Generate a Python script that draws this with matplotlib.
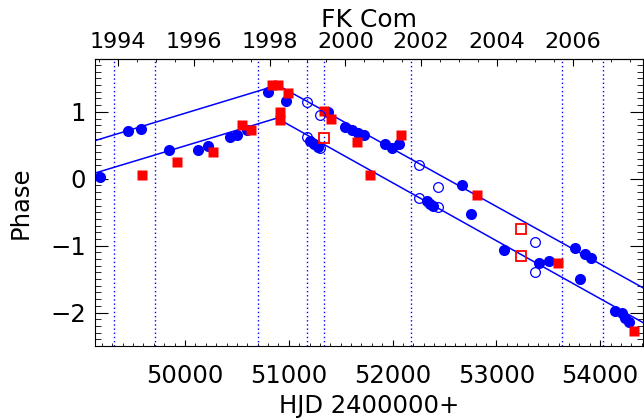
import numpy as np
import matplotlib
matplotlib.use('Agg')
import matplotlib.pyplot as plt
from matplotlib.ticker import MultipleLocator, FixedLocator, FormatStrFormatter

# filled blue circles (HJD-2400000, phase)
blue_hjd = [49181, 49454, 49573, 49849, 50128, 50224, 50434, 50498, 50594, 50802,
            50973, 51381, 51204, 51243, 51281, 51541, 51606, 51670, 51725, 51927,
            51991, 52065, 52329, 52360, 52392, 52666, 52758, 53076, 53407, 53504,
            53757, 53854, 53907, 53801, 54143, 54207, 54239, 54280]
blue_ph = [0.02, 0.72, 0.75, 0.43, 0.43, 0.49, 0.62, 0.65, 0.73, 1.29,
           1.16, 1.00, 0.56, 0.52, 0.48, 0.77, 0.73, 0.69, 0.65, 0.52,
           0.46, 0.52, -0.34, -0.37, -0.41, -0.10, -0.52, -1.07, -1.26, -1.23,
           -1.04, -1.12, -1.18, -1.50, -1.98, -2.00, -2.08, -2.14]

# filled red squares
red_hjd = [49583, 49920, 50273, 50552, 50633, 50835, 50899, 50995, 50915, 50915,
           51342, 51407, 51660, 51782, 52081, 52810, 53591, 54326]
red_ph = [0.05, 0.25, 0.40, 0.80, 0.73, 1.40, 1.40, 1.28, 1.00, 0.88,
          1.01, 0.90, 0.55, 0.05, 0.65, -0.25, -1.26, -2.28]

# open red squares
ored_hjd = [51342, 53234, 53234]
ored_ph = [0.61, -0.75, -1.15]

# open blue circles
oblue_hjd = [51172, 51301, 51172, 51301, 52257, 52257, 52440, 52440, 53375, 53375]
oblue_ph = [1.15, 0.96, 0.63, 0.46, 0.20, -0.29, -0.12, -0.42, -0.94, -1.40]

# fitted migration lines
up_hjd = [49133, 50893, 54412]
up_ph = [0.57, 1.40, -1.63]
lo_hjd = [49133, 50885, 54412]
lo_ph = [0.085, 0.906, -2.15]

# dotted epochs
vl_hjd = [49319, 49711, 50700, 51172, 51342, 52174, 53635, 54024]

# years on the top axis
years = [1994, 1996, 1998, 2000, 2002, 2004, 2006]


def hjd2yr(x):
    return 2000.0 + (np.asarray(x) - 51544.5) / 365.25


def yr2hjd(y):
    return 51544.5 + (np.asarray(y) - 2000.0) * 365.25


plt.rcParams['font.family'] = 'DejaVu Sans'

fig = plt.figure(figsize=(6.44, 4.2), dpi=100)
ax = fig.add_axes([95 / 644, 74 / 420, 548 / 644, 287 / 420])
ax.set_xlim(49133, 54412)
ax.set_ylim(-2.5, 1.79)

for v in vl_hjd:
    ax.axvline(v, color='blue', ls=(0, (1, 2)), lw=1)

ax.plot(up_hjd, up_ph, color='blue', lw=1.1)
ax.plot(lo_hjd, lo_ph, color='blue', lw=1.1)

ax.plot(blue_hjd, blue_ph, 'o', color='blue', ms=8, mec='none')
ax.plot(red_hjd, red_ph, 's', color='red', ms=7.6, mec='none')
ax.plot(oblue_hjd, oblue_ph, 'o', mfc='none', mec='blue', ms=7, mew=0.9)
ax.plot(ored_hjd, ored_ph, 's', mfc='none', mec='red', ms=6.6, mew=1.3)

ax.xaxis.set_major_locator(MultipleLocator(1000))
ax.xaxis.set_minor_locator(MultipleLocator(100))
ax.yaxis.set_major_locator(MultipleLocator(1))
ax.yaxis.set_minor_locator(MultipleLocator(0.1))
ax.tick_params(which='both', direction='in', top=False, right=True)
ax.tick_params(axis='y', which='major', length=9.5, labelsize=17.5, pad=6.5)
ax.tick_params(axis='y', which='minor', length=4.5)
ax.tick_params(axis='x', which='major', length=4.5, labelsize=17.5, pad=13)
ax.tick_params(axis='x', which='minor', length=2.2)

sec = ax.secondary_xaxis('top', functions=(hjd2yr, yr2hjd))
sec.xaxis.set_major_locator(FixedLocator(years))
sec.xaxis.set_minor_locator(FixedLocator(np.arange(1993.5, 2008, 0.5)))
sec.xaxis.set_major_formatter(FormatStrFormatter('%d'))
sec.tick_params(which='both', direction='in')
sec.tick_params(which='major', length=5, labelsize=16, pad=5)
sec.tick_params(which='minor', length=2.5)

fig.text(369 / 644, 1 - 27 / 420, 'FK Com', ha='center', va='baseline', fontsize=18)
fig.text(369 / 644, 1 - 413 / 420, 'HJD 2400000+', ha='center', va='baseline', fontsize=17.5)
fig.text(28 / 644, 1 - 203 / 420, 'Phase', ha='center', va='baseline', rotation=90,
         rotation_mode='anchor', fontsize=17.5)

fig.savefig('out.png', dpi=100)
